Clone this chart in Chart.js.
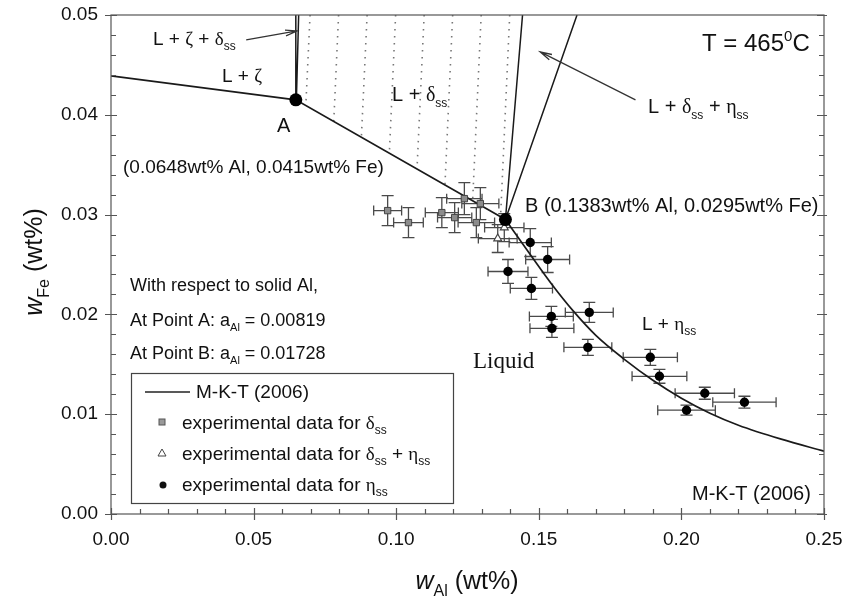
<!DOCTYPE html>
<html>
<head>
<meta charset="utf-8">
<script src="https://cdn.jsdelivr.net/npm/chart.js@4.4.1/dist/chart.umd.min.js"></script>
<style>
  html, body { margin: 0; padding: 0; background: #fff; }
  #wrap { width: 844px; height: 604px; }
</style>
</head>
<body>
<div id="wrap"><canvas id="phaseChart" width="844" height="604"></canvas></div>
<script>
// axis ticks (wt%)
const xTicks = [0, 0.05, 0.10, 0.15, 0.20, 0.25];
const yTicks = [0, 0.01, 0.02, 0.03, 0.04, 0.05];

// experimental data for delta_ss (grey squares)
const deltaAl = [0.0970, 0.1043, 0.1160, 0.1205, 0.1239, 0.1295, 0.1281];
const deltaFe = [0.0304, 0.0292, 0.0302, 0.0297, 0.0316, 0.0311, 0.0292];
const deltaErrAl = [0.0049, 0.0052, 0.0058, 0.0060, 0.0062, 0.0065, 0.0064];
const deltaErrFe = [0.0015, 0.0015, 0.0015, 0.0015, 0.0016, 0.0016, 0.0015];

// experimental data for delta_ss + eta_ss (open triangles)
const mixAl = [0.1379, 0.1356];
const mixFe = [0.0287, 0.0276];
const mixErrAl = [0.0069, 0.0068];
const mixErrFe = [0.0014, 0.0014];

// experimental data for eta_ss (black circles)
const etaAl = [0.1470, 0.1531, 0.1392, 0.1474, 0.1544, 0.1677, 0.1546, 0.1672, 0.1891, 0.1923, 0.2082, 0.2221, 0.2018];
const etaFe = [0.0272, 0.0255, 0.0243, 0.0226, 0.0198, 0.0202, 0.0186, 0.0167, 0.0157, 0.0138, 0.0121, 0.0112, 0.0104];
const etaErrAl = [0.0074, 0.0077, 0.0070, 0.0074, 0.0077, 0.0084, 0.0077, 0.0084, 0.0095, 0.0096, 0.0104, 0.0111, 0.0101];
const etaErrFe = [0.0014, 0.0013, 0.0012, 0.0011, 0.0010, 0.0010, 0.0009, 0.0008, 0.0008, 0.0007, 0.0006, 0.0006, 0.0005];

// M-K-T (2006) liquidus: straight part up to B, curved part after B
const liqAl = [0, 0.0648, 0.1383];
const liqFe = [0.0439, 0.0415, 0.0295];
const mktAl = [0.1383, 0.1470, 0.1546, 0.1622, 0.1700, 0.1800, 0.1900, 0.2000, 0.2100, 0.2200, 0.2350, 0.2500];
const mktFe = [0.0295, 0.0260, 0.0230, 0.0203, 0.0179, 0.0155, 0.0134, 0.0116, 0.0101, 0.0089, 0.0075, 0.0063];

// invariant points A and B
const invAl = [0.0648, 0.1383];
const invFe = [0.0415, 0.0295];

// phase boundaries running up to the top of the plot
const zetaAl = [[0.0648, 0.0648], [0.0650, 0.0658]];
const zetaFe = [[0.0415, 0.0500], [0.0415, 0.0500]];
const etaBoundAl = [[0.1383, 0.1443], [0.1383, 0.1634]];
const etaBoundFe = [[0.0295, 0.0500], [0.0295, 0.0500]];

// dotted tie-lines in L + delta_ss
const tieTopAl = [0.0698, 0.0798, 0.0898, 0.0998, 0.1098, 0.1198, 0.1298, 0.1398];
const tieBotAl = [0.0683, 0.0781, 0.0878, 0.0976, 0.1073, 0.1171, 0.1268, 0.1366];
const tieBotFe = [0.0409, 0.0393, 0.0378, 0.0362, 0.0346, 0.0330, 0.0314, 0.0298];
const tieTopFe = 0.05;

const pts = (xs, ys) => xs.map((v, i) => ({ x: v, y: ys[i] }));
const segs = (xss, yss) => {
    const out = [];
    xss.forEach((xs, k) => {
        if (k > 0) out.push({ x: xs[0], y: null });
        out.push(...pts(xs, yss[k]));
    });
    return out;
};

const tieData = [];
tieTopAl.forEach((v, i) => {
    tieData.push({ x: v, y: tieTopFe }, { x: tieBotAl[i], y: tieBotFe[i] }, { x: v, y: null });
});

const SANS = '"Liberation Sans", Arial, sans-serif';
const SERIF = '"Liberation Serif", "Times New Roman", serif';

// tiny markup: _{sub} ^{sup} ~{italic}; greek letters drawn in serif
function runs(str) {
    const out = [];
    const push = (t, kind) => {
        t.split(/([\u0370-\u03ff]+)/).forEach(seg => {
            if (seg) out.push({ t: seg, kind, greek: /[\u0370-\u03ff]/.test(seg) });
        });
    };
    const re = /([_^~])\{([^}]*)\}/g;
    let last = 0, m;
    while ((m = re.exec(str))) {
        if (m.index > last) push(str.slice(last, m.index), 'n');
        push(m[2], { '_': 'sub', '^': 'sup', '~': 'it' }[m[1]]);
        last = re.lastIndex;
    }
    if (last < str.length) push(str.slice(last), 'n');
    return out;
}

function fontFor(r, size, serif) {
    const s = (r.kind === 'sub' || r.kind === 'sup') ? Math.round(size * 0.62) : size;
    return (r.kind === 'it' ? 'italic ' : '') + s + 'px ' + ((r.greek || serif) ? SERIF : SANS);
}

function drawRich(ctx, str, x, y, size, opt = {}) {
    const rs = runs(str);
    let w = 0;
    rs.forEach(r => {
        ctx.font = fontFor(r, size, opt.serif);
        r.w = ctx.measureText(r.t).width;
        w += r.w;
    });
    let cx = opt.align === 'center' ? x - w / 2 : x;
    ctx.fillStyle = '#111';
    ctx.textAlign = 'left';
    ctx.textBaseline = 'alphabetic';
    rs.forEach(r => {
        ctx.font = fontFor(r, size, opt.serif);
        const dy = r.kind === 'sub' ? size * 0.28 : r.kind === 'sup' ? -size * 0.42 : 0;
        ctx.fillText(r.t, cx, y + dy);
        cx += r.w;
    });
}

// text placed on the plot (left x, baseline y, font size)
const notes = [
    ['T = 465^{0}C', 702, 51, 24],
    ['L + ζ + δ_{ss}', 153, 45, 19],
    ['L + ζ', 222, 82, 19],
    ['A', 277, 132, 20],
    ['(0.0648wt% Al, 0.0415wt% Fe)', 123, 173, 19],
    ['L + δ_{ss}', 392, 101, 20],
    ['L + δ_{ss} + η_{ss}', 648, 113, 20],
    ['B (0.1383wt% Al, 0.0295wt% Fe)', 525, 212, 20],
    ['With respect to solid Al,', 130, 291, 18],
    ['At Point A: a_{Al} = 0.00819', 130, 326, 18],
    ['At Point B: a_{Al} = 0.01728', 130, 359, 18],
    ['L + η_{ss}', 642, 330, 19],
    ['M-K-T (2006)', 692, 500, 20]
];

// arrows in data units: [tailAl, tailFe, headAl, headFe]
const arrows = [
    [0.0474, 0.0475, 0.0652, 0.0484],
    [0.1839, 0.0415, 0.1505, 0.0463]
];

const errorBars = {
    id: 'errorBars',
    beforeDatasetsDraw(chart) {
        const { ctx, scales: { x, y } } = chart;
        ctx.save();
        ctx.strokeStyle = '#4a4a4a';
        ctx.lineWidth = 1.3;
        chart.data.datasets.forEach(ds => {
            if (!ds.errAl) return;
            ds.data.forEach((p, i) => {
                const px = x.getPixelForValue(p.x), py = y.getPixelForValue(p.y);
                const x1 = x.getPixelForValue(p.x - ds.errAl[i]), x2 = x.getPixelForValue(p.x + ds.errAl[i]);
                const y1 = y.getPixelForValue(p.y - ds.errFe[i]), y2 = y.getPixelForValue(p.y + ds.errFe[i]);
                ctx.beginPath();
                ctx.moveTo(x1, py); ctx.lineTo(x2, py);
                ctx.moveTo(x1, py - 5); ctx.lineTo(x1, py + 5);
                ctx.moveTo(x2, py - 5); ctx.lineTo(x2, py + 5);
                ctx.moveTo(px, y1); ctx.lineTo(px, y2);
                ctx.moveTo(px - 6, y1); ctx.lineTo(px + 6, y1);
                ctx.moveTo(px - 6, y2); ctx.lineTo(px + 6, y2);
                ctx.stroke();
            });
        });
        ctx.restore();
    }
};

const decorations = {
    id: 'decorations',
    afterDraw(chart) {
        const { ctx, chartArea: a, scales: { x, y } } = chart;
        ctx.save();

        // frame and ticks
        ctx.strokeStyle = '#555';
        ctx.lineWidth = 1.2;
        ctx.strokeRect(a.left, a.top, a.right - a.left, a.bottom - a.top);
        ctx.beginPath();
        for (let i = 0; i <= 25; i++) {
            const px = Math.round(x.getPixelForValue(i / 100)) + 0.5;
            const major = i % 5 === 0;
            ctx.moveTo(px, a.bottom + (major ? 6 : 0));
            ctx.lineTo(px, a.bottom - (major ? 6 : 5));
        }
        for (let i = 0; i <= 25; i++) {
            const py = Math.round(y.getPixelForValue(i * 0.002)) + 0.5;
            const major = i % 5 === 0;
            ctx.moveTo(a.left - (major ? 6 : 0), py);
            ctx.lineTo(a.left + (major ? 6 : 5), py);
            ctx.moveTo(a.right + (major ? 3 : 0), py);
            ctx.lineTo(a.right - (major ? 7 : 5), py);
        }
        ctx.stroke();

        // arrows
        ctx.strokeStyle = '#333';
        ctx.lineWidth = 1.3;
        arrows.forEach(([ta, tf, ha, hf]) => {
            const tx = x.getPixelForValue(ta), ty = y.getPixelForValue(tf);
            const hx = x.getPixelForValue(ha), hy = y.getPixelForValue(hf);
            const ang = Math.atan2(hy - ty, hx - tx);
            ctx.beginPath();
            ctx.moveTo(tx, ty); ctx.lineTo(hx, hy);
            ctx.moveTo(hx - 12 * Math.cos(ang - 0.25), hy - 12 * Math.sin(ang - 0.25));
            ctx.lineTo(hx, hy);
            ctx.lineTo(hx - 12 * Math.cos(ang + 0.25), hy - 12 * Math.sin(ang + 0.25));
            ctx.stroke();
        });

        // annotations
        notes.forEach(([t, nx, ny, s]) => drawRich(ctx, t, nx, ny, s));
        drawRich(ctx, 'Liquid', 473, 368, 23, { serif: true });

        // legend box
        ctx.strokeStyle = '#444';
        ctx.lineWidth = 1.2;
        ctx.strokeRect(131.5, 373.5, 322, 130);
        ctx.strokeStyle = '#222';
        ctx.lineWidth = 1.5;
        ctx.beginPath(); ctx.moveTo(145, 392); ctx.lineTo(190, 392); ctx.stroke();
        drawRich(ctx, 'M-K-T (2006)', 196, 398, 19);
        ctx.fillStyle = '#999'; ctx.strokeStyle = '#555'; ctx.lineWidth = 1;
        ctx.fillRect(159, 419, 6, 6); ctx.strokeRect(159, 419, 6, 6);
        drawRich(ctx, 'experimental data for δ_{ss}', 182, 429, 19);
        ctx.fillStyle = '#fff'; ctx.strokeStyle = '#444';
        ctx.beginPath(); ctx.moveTo(162, 449); ctx.lineTo(166, 456); ctx.lineTo(158, 456); ctx.closePath();
        ctx.fill(); ctx.stroke();
        drawRich(ctx, 'experimental data for δ_{ss} + η_{ss}', 182, 460, 19);
        ctx.fillStyle = '#111';
        ctx.beginPath(); ctx.arc(163, 485, 3.5, 0, Math.PI * 2); ctx.fill();
        drawRich(ctx, 'experimental data for η_{ss}', 182, 491, 19);

        // axis titles
        drawRich(ctx, '~{w}_{Al} (wt%)', 467, 589, 25, { align: 'center' });
        ctx.translate(42, 262);
        ctx.rotate(-Math.PI / 2);
        drawRich(ctx, '~{w}_{Fe} (wt%)', 0, 0, 25, { align: 'center' });

        ctx.restore();
    }
};

const lineStyle = { showLine: true, pointRadius: 0, borderColor: '#1a1a1a', borderWidth: 1.7, tension: 0, fill: false };

new Chart(document.getElementById('phaseChart').getContext('2d'), {
    type: 'scatter',
    data: {
        datasets: [
            { label: 'tie-lines', data: tieData, showLine: true, pointRadius: 0, borderColor: '#777', borderWidth: 1.6, borderDash: [1.5, 5.5], spanGaps: false, order: 9 },
            { label: 'liquidus', data: pts(liqAl, liqFe), ...lineStyle, order: 8 },
            { label: 'M-K-T (2006)', data: pts(mktAl, mktFe), ...lineStyle, cubicInterpolationMode: 'monotone', order: 8 },
            { label: 'zeta boundary', data: segs(zetaAl, zetaFe), ...lineStyle, borderWidth: 1.5, spanGaps: false, order: 8 },
            { label: 'eta boundary', data: segs(etaBoundAl, etaBoundFe), ...lineStyle, borderWidth: 1.5, spanGaps: false, order: 8 },
            { label: 'delta', data: pts(deltaAl, deltaFe), errAl: deltaErrAl, errFe: deltaErrFe, pointStyle: 'rect', pointRadius: 4.5, backgroundColor: '#8c8c8c', borderColor: '#444', borderWidth: 1, order: 3 },
            { label: 'delta+eta', data: pts(mixAl, mixFe), errAl: mixErrAl, errFe: mixErrFe, pointStyle: 'triangle', pointRadius: 4.5, backgroundColor: '#fff', borderColor: '#444', borderWidth: 1.2, order: 2 },
            { label: 'eta', data: pts(etaAl, etaFe), errAl: etaErrAl, errFe: etaErrFe, pointStyle: 'circle', pointRadius: 4.7, backgroundColor: '#000', borderColor: '#000', borderWidth: 0, order: 1 },
            { label: 'A, B', data: pts(invAl, invFe), pointStyle: 'circle', pointRadius: 6.5, backgroundColor: '#000', borderColor: '#000', borderWidth: 0, order: 0 }
        ]
    },
    options: {
        responsive: false,
        animation: false,
        layout: { autoPadding: false, padding: { top: 15, right: 20, left: 0, bottom: 0 } },
        plugins: { legend: { display: false }, tooltip: { enabled: false } },
        scales: {
            x: {
                type: 'linear', min: 0, max: 0.25,
                afterBuildTicks: s => { s.ticks = xTicks.map(v => ({ value: v })); },
                afterFit: s => { s.height = 90; s.paddingLeft = 0; s.paddingRight = 0; },
                ticks: { callback: v => v.toFixed(2), font: { family: SANS, size: 19 }, color: '#111', padding: 14, maxRotation: 0 },
                grid: { display: false, drawTicks: false },
                border: { display: false }
            },
            y: {
                type: 'linear', min: 0, max: 0.05,
                afterBuildTicks: s => { s.ticks = yTicks.map(v => ({ value: v })); },
                afterFit: s => { s.width = 111; s.paddingTop = 0; s.paddingBottom = 0; },
                ticks: { callback: v => v.toFixed(2), font: { family: SANS, size: 19 }, color: '#111', padding: 13 },
                grid: { display: false, drawTicks: false },
                border: { display: false }
            }
        }
    },
    plugins: [errorBars, decorations]
});
</script>
</body>
</html>
